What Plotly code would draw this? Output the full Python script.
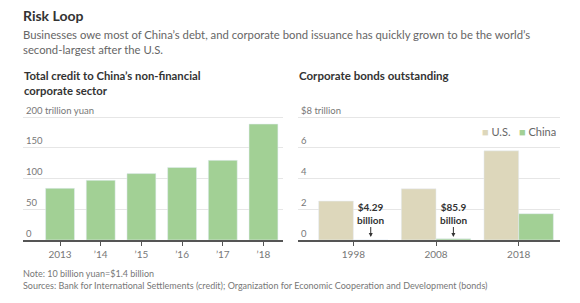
import plotly.graph_objects as go

# ---- data ----
credit_years = ["2013", "’14", "’15", "’16", "’17", "’18"]
credit_values = [84, 97, 108, 118, 129.5, 188.5]  # trillion yuan

bond_years = ["1998", "2008", "2018"]
us_bonds = [2.53, 3.33, 5.8]          # $ trillion
china_bonds = [0.00429, 0.0859, 1.71]  # $ trillion
china_labels = ["<b>$4.29</b><br><b>billion</b>", "<b>$85.9</b><br><b>billion</b>", None]

left_tickvals = [0, 50, 100, 150, 200]
left_ticktext = ["0", "50", "100", "150", "200 trillion yuan"]
right_tickvals = [0, 2, 4, 6, 8]
right_ticktext = ["0", "2", "4", "6", "$8 trillion"]

# ---- styling ----
W, H = 580, 303
FONT = "Lato"
GREEN = "#a2d095"
BEIGE = "#ddd7bb"
GRID = "#e6e6e6"
AXIS = "#555555"
TICK = "#777777"

def px(x):
    return x / W

def py(y):
    return 1 - y / H

LTOP = 220
RTOP = LTOP * 8 / 200
y_dom = [py(240), py(240 - LTOP * 123 / 200)]

fig = go.Figure()

fig.add_trace(go.Bar(x=credit_years, y=credit_values, marker_color=GREEN,
                     width=0.71, xaxis="x", yaxis="y", showlegend=False))
fig.add_trace(go.Bar(x=bond_years, y=us_bonds, marker_color=BEIGE, name="U.S.",
                     width=0.42, offset=-0.42, xaxis="x2", yaxis="y2", showlegend=False))
fig.add_trace(go.Bar(x=bond_years, y=china_bonds, marker_color=GREEN, name="China",
                     width=0.42, offset=0, xaxis="x2", yaxis="y2", showlegend=False))

xcommon = dict(type="category", showgrid=False, showline=True, linecolor=AXIS, linewidth=1.5,
               ticks="outside", ticklen=4, tickcolor=AXIS, tickwidth=1,
               tickfont=dict(family=FONT, size=10, color=TICK), fixedrange=True)
ycommon = dict(showgrid=True, gridcolor=GRID, gridwidth=1, zeroline=False, showline=False,
               ticks="", ticklabelposition="inside top", ticklabeloverflow="allow",
               tickfont=dict(family=FONT, size=9.5, color=TICK), fixedrange=True)

fig.update_layout(
    width=W, height=H,
    margin=dict(l=0, r=0, t=0, b=0),
    paper_bgcolor="white", plot_bgcolor="white",
    barmode="group",
    xaxis=dict(domain=[px(23), px(283)], range=[-0.91, 5.48], anchor="y", **xcommon),
    yaxis=dict(domain=y_dom, range=[0, LTOP], anchor="x", tickvals=left_tickvals,
               ticktext=left_ticktext, **ycommon),
    xaxis2=dict(domain=[px(298), px(560)], range=[-0.67, 2.5], anchor="y2", **xcommon),
    yaxis2=dict(domain=y_dom, range=[0, RTOP], anchor="x2", tickvals=right_tickvals,
                ticktext=right_ticktext, **ycommon),
)

ann = []
# Titles
ann.append(dict(text="<b>Risk Loop</b>", x=px(21), y=py(15), xref="paper", yref="paper",
                xanchor="left", yanchor="middle", showarrow=False,
                font=dict(family=FONT, size=14, color="#333333")))
ann.append(dict(text="Businesses owe most of China’s debt, and corporate bond issuance has quickly grown to be the world’s<br>second-largest after the U.S.",
                x=px(21), y=py(42), xref="paper", yref="paper", xanchor="left", yanchor="middle",
                align="left", showarrow=False, font=dict(family=FONT, size=11.3, color="#666666")))
ann.append(dict(text="<b>Total credit to China’s non-financial</b><br><b>corporate sector</b>",
                x=px(22), y=py(83), xref="paper", yref="paper", xanchor="left", yanchor="middle",
                align="left", showarrow=False, font=dict(family=FONT, size=11.3, color="#333333")))
ann.append(dict(text="<b>Corporate bonds outstanding</b>",
                x=px(297), y=py(75), xref="paper", yref="paper", xanchor="left", yanchor="middle",
                align="left", showarrow=False, font=dict(family=FONT, size=11.5, color="#333333")))
# Legend
ann.append(dict(text=f"<span style='color:{BEIGE}'>■</span> U.S.   <span style='color:{GREEN}'>■</span> China",
                x=px(480), y=py(131), xref="paper", yref="paper", xanchor="left", yanchor="middle",
                showarrow=False, font=dict(family=FONT, size=11, color="#666666")))
# Value callouts for China bonds
for i, lbl in enumerate(china_labels):
    if lbl is None:
        continue
    ann.append(dict(text=lbl, x=i + 0.21, y=0, xref="x2", yref="y2", showarrow=True,
                    ax=0, ay=-27, arrowhead=2, arrowsize=0.8, arrowwidth=1, arrowcolor="#333333",
                    standoff=3, font=dict(family=FONT, size=10, color="#333333")))
# Notes
ann.append(dict(text="Note: 10 billion yuan=$1.4 billion<br>Sources: Bank for International Settlements (credit); Organization for Economic Cooperation and Development (bonds)",
                x=px(21), y=py(279), xref="paper", yref="paper", xanchor="left", yanchor="middle",
                align="left", showarrow=False, font=dict(family=FONT, size=9, color="#777777")))

fig.update_layout(annotations=ann)

fig.write_html("out.html")
